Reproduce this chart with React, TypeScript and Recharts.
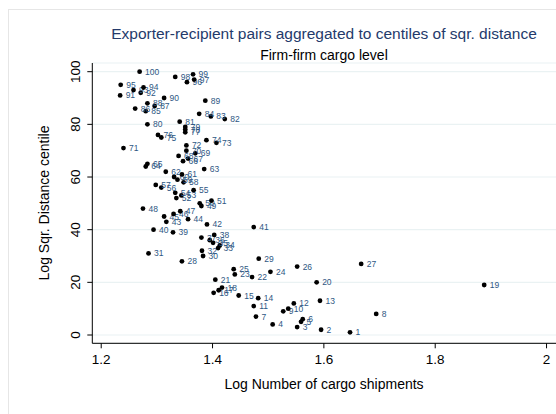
import React from "react";
import { ScatterChart, Scatter, XAxis, YAxis, CartesianGrid } from "recharts";

// Centile of squared distance (label and y value of each point)
const centiles = [
  1, 2, 3, 4, 5, 6, 7, 8, 9, 10,
  11, 12, 13, 14, 15, 16, 17, 18, 19, 20,
  21, 22, 23, 24, 25, 26, 27, 28, 29, 30,
  31, 32, 33, 34, 35, 36, 37, 38, 39, 40,
  41, 42, 43, 44, 45, 46, 47, 48, 49, 50,
  51, 52, 53, 54, 55, 56, 57, 58, 59, 60,
  61, 62, 63, 64, 65, 66, 67, 68, 69, 70,
  71, 72, 73, 74, 75, 76, 77, 78, 79, 80,
  81, 82, 83, 84, 85, 86, 87, 88, 89, 90,
  91, 92, 93, 94, 95, 96, 97, 98, 99, 100,
];

// Log number of cargo shipments for each centile
const logShipments = [
  1.647, 1.595, 1.552, 1.508, 1.559, 1.562, 1.478, 1.694, 1.527, 1.536,
  1.474, 1.546, 1.593, 1.482, 1.447, 1.402, 1.411, 1.417, 1.888, 1.587,
  1.405, 1.471, 1.44, 1.504, 1.438, 1.552, 1.667, 1.345, 1.483, 1.383,
  1.285, 1.381, 1.41, 1.413, 1.401, 1.395, 1.38, 1.403, 1.329, 1.294,
  1.474, 1.39, 1.317, 1.356, 1.313, 1.33, 1.342, 1.275, 1.38, 1.377,
  1.398, 1.335, 1.344, 1.333, 1.366, 1.308, 1.298, 1.348, 1.337, 1.331,
  1.345, 1.316, 1.385, 1.28, 1.283, 1.347, 1.356, 1.339, 1.369, 1.353,
  1.24, 1.353, 1.407, 1.389, 1.308, 1.302, 1.351, 1.351, 1.351, 1.283,
  1.341, 1.422, 1.397, 1.376, 1.28, 1.261, 1.296, 1.283, 1.387, 1.313,
  1.234, 1.271, 1.258, 1.276, 1.235, 1.354, 1.367, 1.333, 1.365, 1.269,
];

const xTicks = [1.2, 1.4, 1.6, 1.8, 2];
const yTicks = [0, 20, 40, 60, 80, 100];

const titleText = "Exporter-recipient pairs aggregated to centiles of sqr. distance";
const subtitleText = "Firm-firm cargo level";
const xTitle = "Log Number of cargo shipments";
const yTitle = "Log Sqr. Distance centile";

const data = centiles.map((c, i) => ({ x: logShipments[i], y: c, label: String(c) }));

const FONT = '"Liberation Sans", Arial, Helvetica, sans-serif';

const XTick = (props: any) => {
  const { x, y, payload } = props;
  return (
    <text x={x} y={y + 13.5} textAnchor="middle" fontSize={13.5} fontFamily={FONT} fill="#000">
      {String(payload.value)}
    </text>
  );
};

const YTick = (props: any) => {
  const { x, y, payload } = props;
  const bx = x - 5;
  return (
    <text
      x={bx}
      y={y}
      textAnchor="middle"
      fontSize={13.5}
      fontFamily={FONT}
      fill="#000"
      transform={`rotate(-90, ${bx}, ${y})`}
    >
      {String(payload.value)}
    </text>
  );
};

const PointShape = (props: any) => {
  const { cx, cy, payload } = props;
  return (
    <g>
      <circle cx={cx} cy={cy} r={2.4} fill="#000" />
      <text
        x={cx + 5.5}
        y={cy}
        dominantBaseline="central"
        fontSize={8.5}
        fontFamily={FONT}
        fill="#2e5783"
      >
        {payload.label}
      </text>
    </g>
  );
};

export default function App() {
  return (
    <div
      style={{
        position: "absolute",
        left: 0,
        top: 0,
        width: 556,
        height: 414,
        overflow: "hidden",
        background: "#fff",
        fontFamily: FONT,
      }}
    >
      <div
        style={{
          position: "absolute",
          left: 8,
          top: 9,
          width: 560,
          height: 420,
          borderLeft: "1px solid #e6e6e6",
          borderTop: "1px solid #e6e6e6",
        }}
      />
      <ScatterChart
        width={556}
        height={414}
        margin={{ top: 63, right: 0, bottom: 40.7, left: 32.3 }}
        style={{ position: "absolute", left: 0, top: 0 }}
      >
        <CartesianGrid horizontal={true} vertical={false} stroke="#eaf2f3" strokeWidth={1.2} />
        <XAxis
          type="number"
          dataKey="x"
          domain={[1.184, 2.017]}
          ticks={xTicks}
          allowDataOverflow
          height={30}
          tickSize={5}
          tickMargin={2}
          axisLine={{ stroke: "#000" }}
          tickLine={{ stroke: "#000" }}
          tick={<XTick />}
          interval={0}
        />
        <YAxis
          type="number"
          dataKey="y"
          domain={[-3.15, 103.3]}
          ticks={yTicks}
          allowDataOverflow
          width={60}
          tickSize={5}
          tickMargin={2}
          axisLine={{ stroke: "#000" }}
          tickLine={{ stroke: "#000" }}
          tick={<YTick />}
          interval={0}
        />
        <Scatter data={data} isAnimationActive={false} shape={<PointShape />} />
      </ScatterChart>
      <div style={{ position: "absolute", left: 92, width: 464, top: 25, textAlign: "center", fontSize: 15.5, color: "#243a6b", lineHeight: "18px", whiteSpace: "nowrap" }}>
        {titleText}
      </div>
      <div style={{ position: "absolute", left: 92, width: 464, top: 47, textAlign: "center", fontSize: 14, color: "#000", lineHeight: "16px", whiteSpace: "nowrap" }}>
        {subtitleText}
      </div>
      <div style={{ position: "absolute", left: 92, width: 464, top: 376, textAlign: "center", fontSize: 14, color: "#000", lineHeight: "16px", whiteSpace: "nowrap" }}>
        {xTitle}
      </div>
      <div
        style={{
          position: "absolute",
          left: 44 - 100,
          top: 203 - 8,
          width: 200,
          height: 16,
          textAlign: "center",
          fontSize: 14,
          lineHeight: "16px",
          color: "#000",
          transform: "rotate(-90deg)",
          whiteSpace: "nowrap",
        }}
      >
        {yTitle}
      </div>
    </div>
  );
}
